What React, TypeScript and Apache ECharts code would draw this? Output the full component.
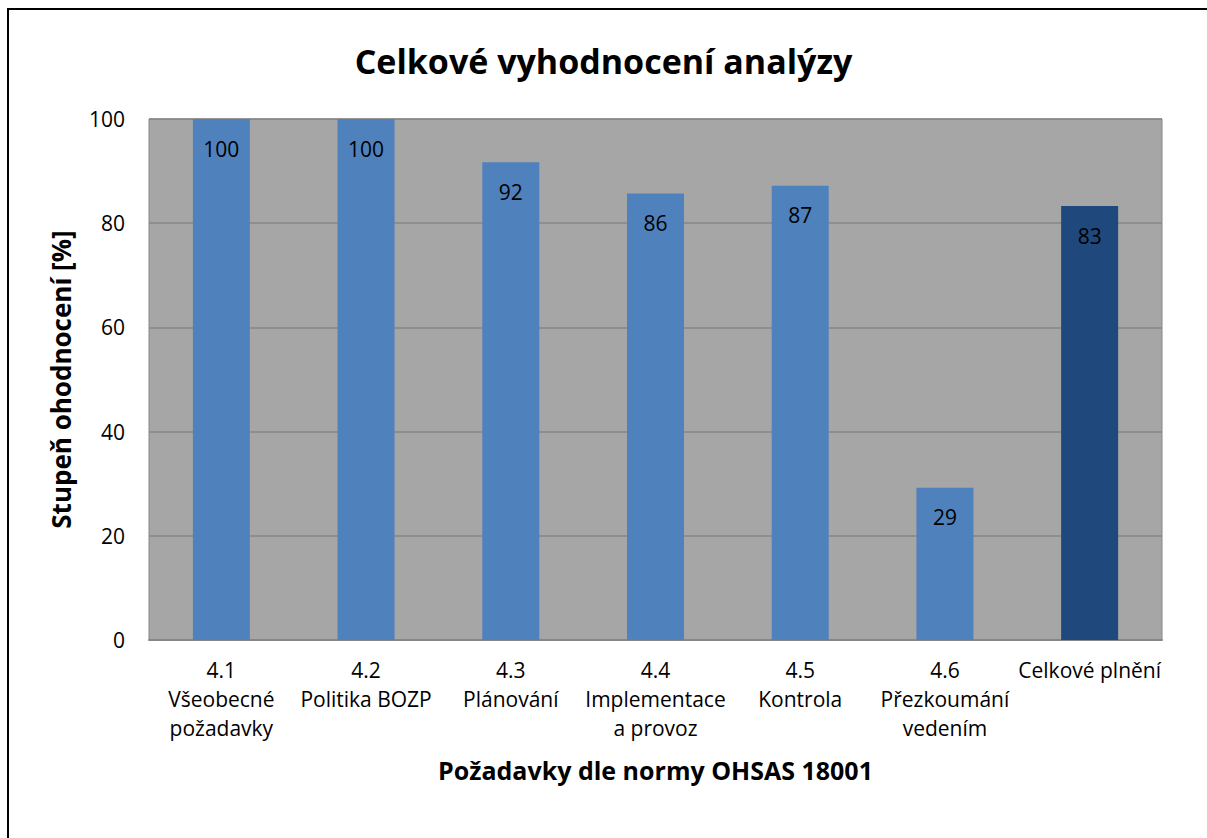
import React, { useEffect, useRef } from "react";
import * as echarts from "echarts";

const categories = [
  "4.1\nVšeobecné\npožadavky",
  "4.2\nPolitika BOZP",
  "4.3\nPlánování",
  "4.4\nImplementace\na provoz",
  "4.5\nKontrola",
  "4.6\nPřezkoumání\nvedením",
  "Celkové plnění",
];
const values = [100, 100, 91.7, 85.7, 87.2, 29.2, 83.3];
const barColors = ["#4f81bd", "#4f81bd", "#4f81bd", "#4f81bd", "#4f81bd", "#4f81bd", "#1f497d"];
const yTicks = { min: 0, max: 100, interval: 20 };

const FONT = "Open Sans";

export default function App() {
  const ref = useRef<HTMLDivElement>(null);
  useEffect(() => {
    if (!ref.current) return;
    const chart = echarts.init(ref.current, null, { renderer: "svg" });
    chart.setOption({
      animation: false,
      backgroundColor: "#ffffff",
      title: {
        text: "Celkové vyhodnocení analýzy",
        left: "center",
        top: 39,
        textStyle: { fontFamily: FONT, fontSize: 34, fontWeight: "bold", color: "#000" },
      },
      grid: {
        left: 149,
        top: 119,
        right: 45,
        bottom: 198,
        show: true,
        backgroundColor: "#a6a6a6",
        borderColor: "#868686",
        borderWidth: 1,
      },
      xAxis: {
        type: "category",
        data: categories,
        name: "Požadavky dle normy OHSAS 18001",
        nameLocation: "middle",
        nameGap: 117,
        nameTextStyle: { fontFamily: FONT, fontSize: 25, fontWeight: "bold", color: "#000" },
        axisLine: { show: true, lineStyle: { color: "#868686", width: 2 } },
        axisTick: { show: false },
        axisLabel: {
          interval: 0,
          margin: 15,
          fontFamily: FONT,
          fontSize: 21,
          lineHeight: 29,
          color: "#000",
          align: "center",
        },
      },
      yAxis: {
        type: "value",
        min: yTicks.min,
        max: yTicks.max,
        interval: yTicks.interval,
        name: "Stupeň ohodnocení [%]",
        nameLocation: "middle",
        nameGap: 75,
        nameRotate: 90,
        nameTextStyle: { fontFamily: FONT, fontSize: 26, fontWeight: "bold", color: "#000" },
        axisLine: { show: false },
        axisTick: { show: false },
        splitLine: { show: true, lineStyle: { color: "#868686", width: 1.5 } },
        axisLabel: { margin: 24, fontFamily: FONT, fontSize: 21, color: "#000" },
      },
      series: [
        {
          type: "bar",
          barWidth: 57,
          data: values.map((v, i) => ({ value: v, itemStyle: { color: barColors[i] } })),
          label: {
            show: true,
            position: "insideTop",
            distance: 19,
            fontFamily: FONT,
            fontSize: 21,
            color: "#000",
            formatter: (p: any) => String(Math.round(p.value)),
          },
        },
      ],
    });
    return () => chart.dispose();
  }, []);
  return (
    <div>
      <div ref={ref} style={{ position: "absolute", left: 0, top: 0, width: 1207, height: 838 }} />
      <div
        style={{
          position: "absolute",
          left: 7,
          top: 8,
          width: 1200,
          height: 830,
          borderLeft: "2px solid #000",
          borderTop: "2px solid #000",
          boxSizing: "border-box",
          pointerEvents: "none",
        }}
      />
    </div>
  );
}
